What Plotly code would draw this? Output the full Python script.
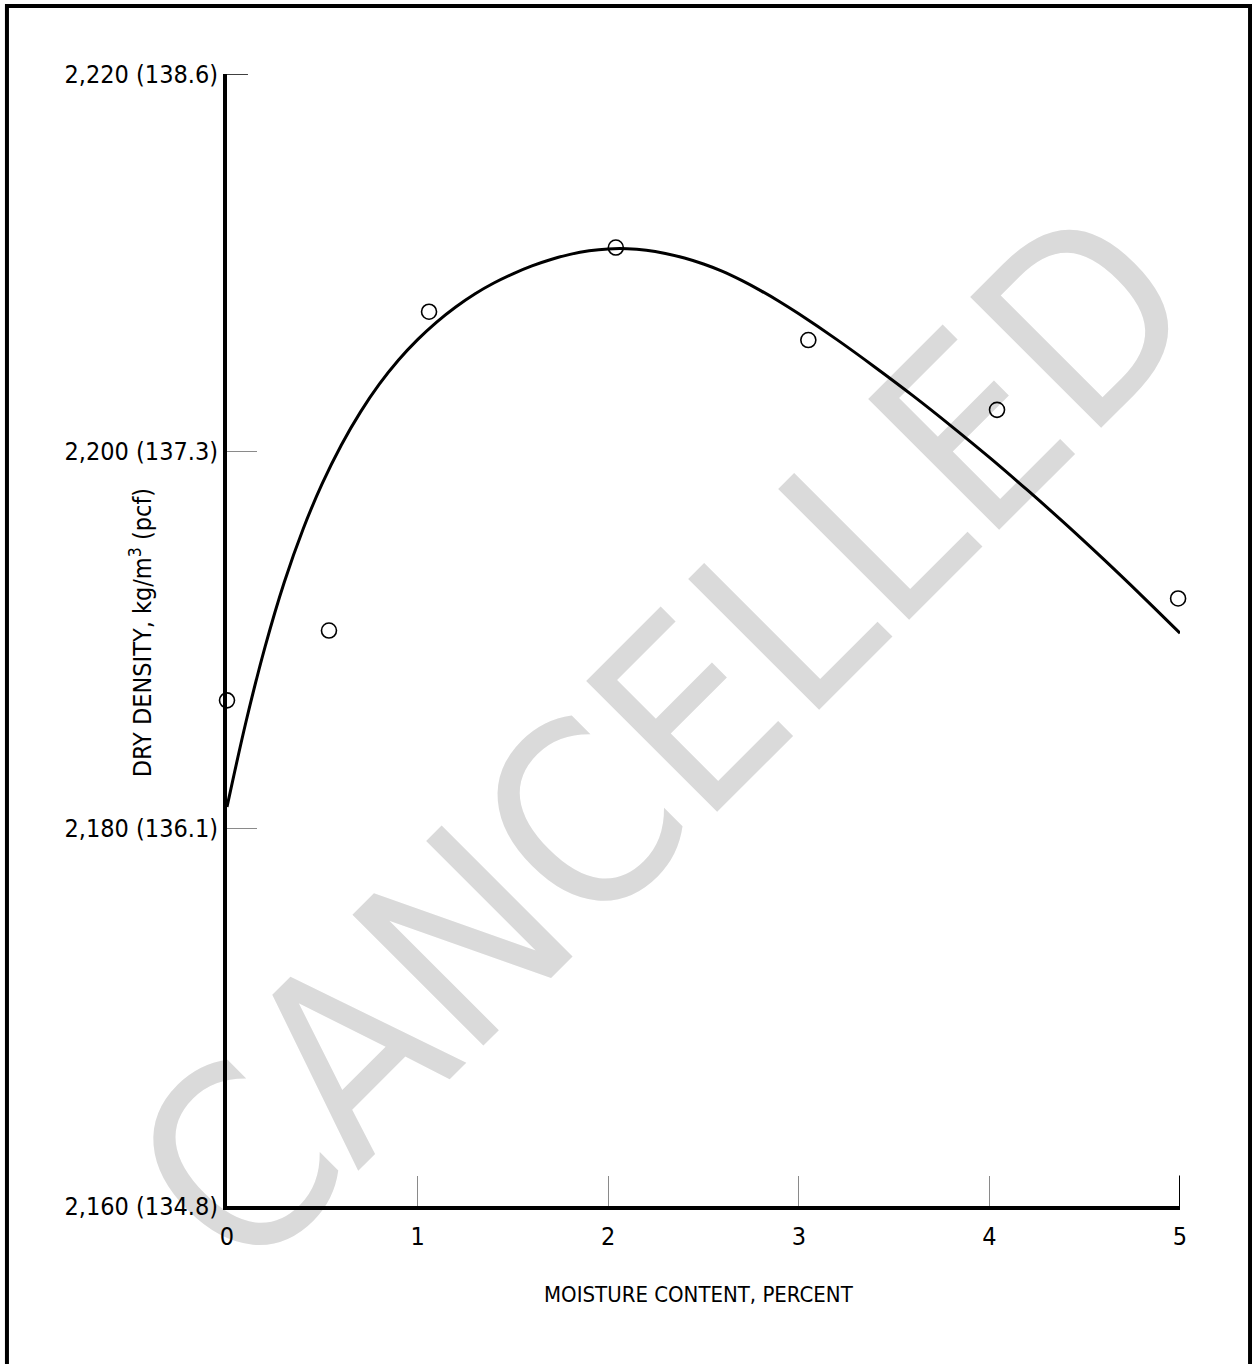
import plotly.graph_objects as go

# Measured compaction test points: moisture content (%) vs dry density (kg/m3)
moisture_pct = [0.0, 0.535, 1.06, 2.04, 3.05, 4.04, 4.99]
dry_density = [2186.8, 2190.5, 2207.4, 2210.8, 2205.9, 2202.2, 2192.2]

# Fitted compaction curve, sampled along its length
curve_moisture = [0.0, 0.1, 0.2, 0.3, 0.4, 0.5, 0.6, 0.7, 0.8, 0.9, 1.0,
                  1.1, 1.2, 1.3, 1.4, 1.5, 1.6, 1.7, 1.8, 1.9, 2.0,
                  2.1, 2.2, 2.3, 2.4, 2.5, 2.6, 2.7, 2.8, 2.9, 3.0,
                  3.2, 3.4, 3.6, 3.8, 4.0, 4.2, 4.4, 4.6, 4.8, 5.0]
curve_density = [2181.15, 2185.68, 2189.65, 2193.05, 2195.90, 2198.30, 2200.34,
                 2202.08, 2203.57, 2204.84, 2205.92, 2206.85, 2207.65, 2208.34,
                 2208.92, 2209.41, 2209.83, 2210.17, 2210.44, 2210.63, 2210.73,
                 2210.74, 2210.66, 2210.49, 2210.25, 2209.93, 2209.54, 2209.06,
                 2208.52, 2207.93, 2207.29, 2205.92, 2204.46, 2202.94, 2201.34,
                 2199.68, 2197.94, 2196.14, 2194.27, 2192.34, 2190.36]

# Axis ticks
x_ticks = [0, 1, 2, 3, 4, 5]
x_tick_labels = ["0", "1", "2", "3", "4", "5"]
y_ticks = [2160, 2180, 2200, 2220]
y_tick_labels = ["2,160 (134.8)", "2,180 (136.1)", "2,200 (137.3)", "2,220 (138.6)"]

FONT = "DejaVu Sans Condensed, sans-serif"

fig = go.Figure()

fig.add_trace(go.Scatter(
    x=curve_moisture, y=curve_density, mode="lines",
    line=dict(color="black", width=3, shape="spline", smoothing=1.0),
    hoverinfo="skip", cliponaxis=False,
))

fig.add_trace(go.Scatter(
    x=moisture_pct, y=dry_density, mode="markers",
    marker=dict(symbol="circle-open", size=15, color="black", line=dict(width=1.6)),
    cliponaxis=False,
))

fig.update_xaxes(
    range=[0, 5], tickvals=x_ticks, ticktext=x_tick_labels,
    ticks="inside", ticklen=30, tickwidth=1, tickcolor="#8a8a8a",
    showline=True, linecolor="black", linewidth=4,
    showgrid=False, zeroline=False,
    tickfont=dict(family=FONT, size=25, color="black"),
    ticklabelstandoff=5,
)
fig.update_yaxes(
    range=[2160, 2220], tickvals=y_ticks, ticktext=y_tick_labels,
    ticks="inside", ticklen=30, tickwidth=1, tickcolor="#8a8a8a",
    showline=True, linecolor="black", linewidth=4,
    showgrid=False, zeroline=False,
    tickfont=dict(family=FONT, size=25, color="black"),
    ticklabelstandoff=0,
)

shapes = [
    # diagonal watermark, kept beneath the data
    dict(type="rect", xref="paper", yref="paper",
         x0=0.396, x1=0.496, y0=0.3731, y1=0.4731,
         line=dict(width=0), fillcolor="rgba(0,0,0,0)", layer="below",
         label=dict(text="CANCELLED", textangle=-45, textposition="middle center",
                    font=dict(family="DejaVu Sans Condensed, sans-serif",
                              size=254, color="#dadada"))),
    # heavier tick marks at the top of the density scale and the end of the moisture scale
    dict(type="line", xref="x domain", yref="y", x0=0, x1=0.022, y0=2220, y1=2220,
         line=dict(color="black", width=1.5)),
    dict(type="line", xref="x", yref="y domain", x0=5, x1=5, y0=0, y1=0.027,
         line=dict(color="black", width=2)),
    # page frame
    dict(type="rect", xref="paper", yref="paper",
         x0=-0.2309, x1=1.0735, y0=-0.16, y1=1.0601,
         line=dict(color="black", width=4), fillcolor="rgba(0,0,0,0)"),
]

annotations = [
    dict(text="DRY DENSITY, kg/m<sup>3</sup> (pcf)", textangle=-90,
         xref="paper", yref="paper", x=-0.0902, y=0.506,
         xanchor="center", yanchor="middle", showarrow=False,
         font=dict(family=FONT, size=25, color="black")),
    dict(text="MOISTURE CONTENT, PERCENT",
         xref="paper", yref="paper", x=0.495, y=-0.0786,
         xanchor="center", yanchor="middle", showarrow=False,
         font=dict(family=FONT, size=22, color="black")),
]

fig.update_layout(
    width=1252, height=1364,
    margin=dict(l=227, r=72, t=74, b=158),
    paper_bgcolor="white", plot_bgcolor="white",
    showlegend=False,
    shapes=shapes, annotations=annotations,
)

fig.write_html("out.html")
